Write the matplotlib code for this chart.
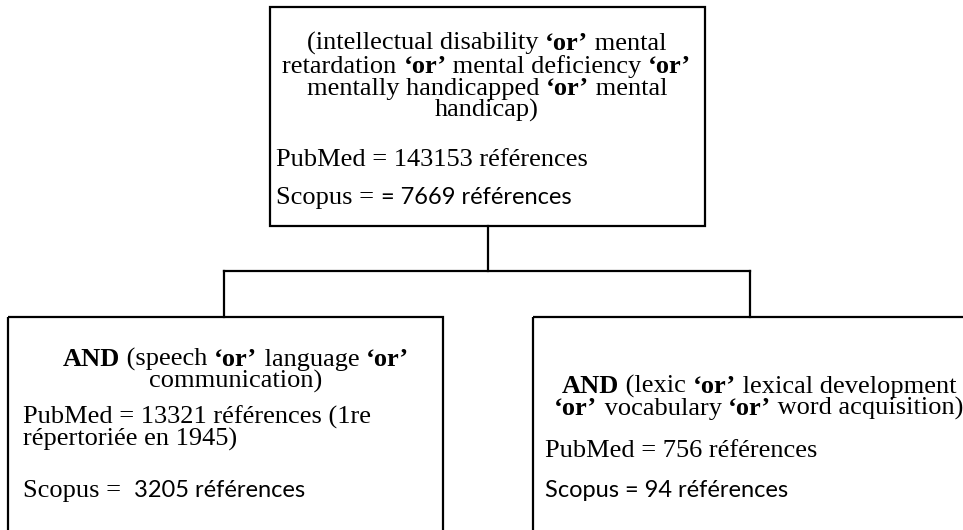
import matplotlib
matplotlib.use("Agg")
import matplotlib.pyplot as plt
from matplotlib.patches import Rectangle

SERIF = "Liberation Serif"
SANS = "Lato"

# text of each box, as runs of (string, style); n = normal serif, b = bold serif, s = sans
top_title = [
    [("(intellectual disability ", "n"), ("\u2018or\u2019", "b"), (" mental", "n")],
    [("retardation ", "n"), ("\u2018or\u2019", "b"), (" mental deficiency ", "n"), ("\u2018or\u2019", "b")],
    [("mentally handicapped ", "n"), ("\u2018or\u2019", "b"), (" mental", "n")],
    [("handicap)", "n")],
]
top_counts = [
    [("PubMed = 143153 r\u00e9f\u00e9rences", "n")],
    [("Scopus = ", "n"), ("= 7669 r\u00e9f\u00e9rences", "s")],
]
left_title = [
    [("AND", "b"), (" (speech ", "n"), ("\u2018or\u2019", "b"), (" language ", "n"), ("\u2018or\u2019", "b")],
    [("communication)", "n")],
]
left_counts = [
    [("PubMed = 13321 r\u00e9f\u00e9rences (1re", "n")],
    [("r\u00e9pertori\u00e9e en 1945)", "n")],
    [("Scopus =  ", "n"), ("3205 r\u00e9f\u00e9rences", "s")],
]
right_title = [
    [("AND", "b"), (" (lexic ", "n"), ("\u2018or\u2019", "b"), (" lexical development", "n")],
    [("\u2018or\u2019", "b"), (" vocabulary ", "n"), ("\u2018or\u2019", "b"), (" word acquisition)", "n")],
]
right_counts = [
    [("PubMed = 756 r\u00e9f\u00e9rences", "n")],
    [("Scopus = 94 r\u00e9f\u00e9rences", "s")],
]

fig = plt.figure(figsize=(9.63, 5.30), dpi=100)
ax = fig.add_axes([0, 0, 1, 1])
ax.set_xlim(0, 963)
ax.set_ylim(530, 0)
ax.axis("off")
renderer = fig.canvas.get_renderer()

styles = {
    "n": dict(family=SERIF, weight="normal", size=19),
    "b": dict(family=SERIF, weight="bold", size=19),
    "s": dict(family=SANS, weight="normal", size=17),
}


def draw_runs(x, y, runs, ha="left"):
    texts, widths = [], []
    for s, st in runs:
        t = ax.text(0, y, s, va="baseline", ha="left", color="black", **styles[st])
        widths.append(t.get_window_extent(renderer).width)
        texts.append(t)
    pos = x - sum(widths) / 2 if ha == "center" else x
    for t, w in zip(texts, widths):
        t.set_x(pos)
        pos += w


def draw_block(x, ys, lines, ha="left"):
    for y, runs in zip(ys, lines):
        draw_runs(x, y, runs, ha)


# boxes
lw = 1.6
ax.add_patch(Rectangle((270, 7), 435, 219, fill=False, lw=lw, ec="black"))
ax.add_patch(Rectangle((8, 317), 435, 240, fill=False, lw=lw, ec="black"))
ax.add_patch(Rectangle((533, 317), 460, 240, fill=False, lw=lw, ec="black"))

# connectors
ax.plot([488, 488], [226, 271], color="black", lw=lw)
ax.plot([224, 750], [271, 271], color="black", lw=lw, solid_capstyle="projecting")
ax.plot([224, 224], [271, 317], color="black", lw=lw)
ax.plot([750, 750], [271, 317], color="black", lw=lw)

draw_block(487, [50, 73, 95, 117], top_title, ha="center")
draw_block(276, [166, 204], top_counts)
draw_block(236, [366, 388], left_title, ha="center")
draw_block(23, [424, 446, 497], left_counts)
draw_block(759, [393, 415], right_title, ha="center")
draw_block(545, [457, 497], right_counts)

fig.savefig("out.png", dpi=100)
